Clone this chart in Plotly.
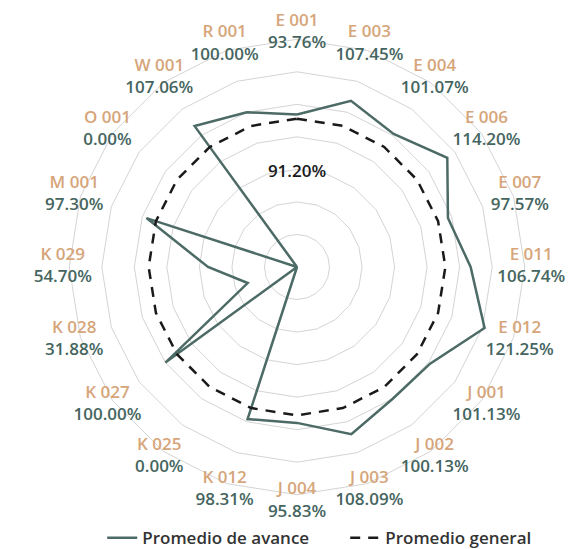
import plotly.graph_objects as go

categorias = ["E 001", "E 003", "E 004", "E 006", "E 007", "E 011", "E 012",
              "J 001", "J 002", "J 003", "J 004", "K 012", "K 025", "K 027",
              "K 028", "K 029", "M 001", "O 001", "W 001", "R 001"]
avance = [93.76, 107.45, 101.07, 114.20, 97.57, 106.74, 121.25,
          101.13, 100.13, 108.09, 95.83, 98.31, 0.00, 100.00,
          31.88, 54.70, 97.30, 0.00, 107.06, 100.00]
promedio_general = 91.20

col_linea = "#4d6b66"
col_cat = "#d6a57a"
col_val = "#456560"
fuente = "Open Sans"

theta = categorias + categorias[:1]
r_av = avance + avance[:1]
r_pg = [promedio_general] * len(theta)

fig = go.Figure()
fig.add_trace(go.Scatterpolar(r=r_av, theta=theta, mode="lines", name="Promedio de avance",
                              line=dict(color=col_linea, width=2.5)))
fig.add_trace(go.Scatterpolar(r=r_pg, theta=theta, mode="lines", name="Promedio general",
                              line=dict(color="#1a1a1a", width=2.5, dash="10px,8px")))

# etiqueta de categoría (arriba) y valor (abajo) alrededor del anillo exterior
etiquetas = [f"<span style='color:{col_cat}'>{c}</span><br>"
             f"<span style='color:{col_val}'>{v:.2f}%</span>"
             for c, v in zip(categorias, avance)]
fig.add_trace(go.Scatterpolar(r=[144] * len(categorias), theta=categorias, mode="text",
                              text=etiquetas, textposition="middle center", showlegend=False,
                              textfont=dict(family=fuente, size=17, color=col_val, weight=600),
                              hoverinfo="skip"))
fig.add_trace(go.Scatterpolar(r=[58], theta=categorias[:1], mode="text",
                              text=[f"{promedio_general:.2f}%"], showlegend=False,
                              textfont=dict(family=fuente, size=17, color="#1a1a1a", weight=600),
                              hoverinfo="skip"))

# la página añade 8px de margen al cuerpo: la figura ocupa 578x541 visibles
fig.update_layout(
    width=578, height=541,
    margin=dict(l=0, r=0, t=0, b=0, autoexpand=False),
    paper_bgcolor="white",
    font=dict(family=fuente, size=17, color="#333333"),
    polar=dict(
        domain=dict(x=[45 / 578, 533 / 578], y=[1 - 503 / 541, 1 - 15 / 541]),
        bgcolor="white",
        gridshape="linear",
        radialaxis=dict(range=[0, 150], tickvals=[20, 40, 60, 80, 100, 120, 140],
                        showticklabels=False, ticks="",
                        showline=False, gridcolor="#d4d4d4", gridwidth=1),
        angularaxis=dict(direction="clockwise", rotation=90, showticklabels=False, ticks="",
                         showgrid=False, showline=False),
    ),
    legend=dict(orientation="h", x=0.163, xanchor="left", y=0.02, yanchor="middle",
                font=dict(family=fuente, size=17, color="#333333", weight=600),
                itemwidth=30, entrywidth=198, tracegroupgap=0),
)

fig.write_html("out.html")
